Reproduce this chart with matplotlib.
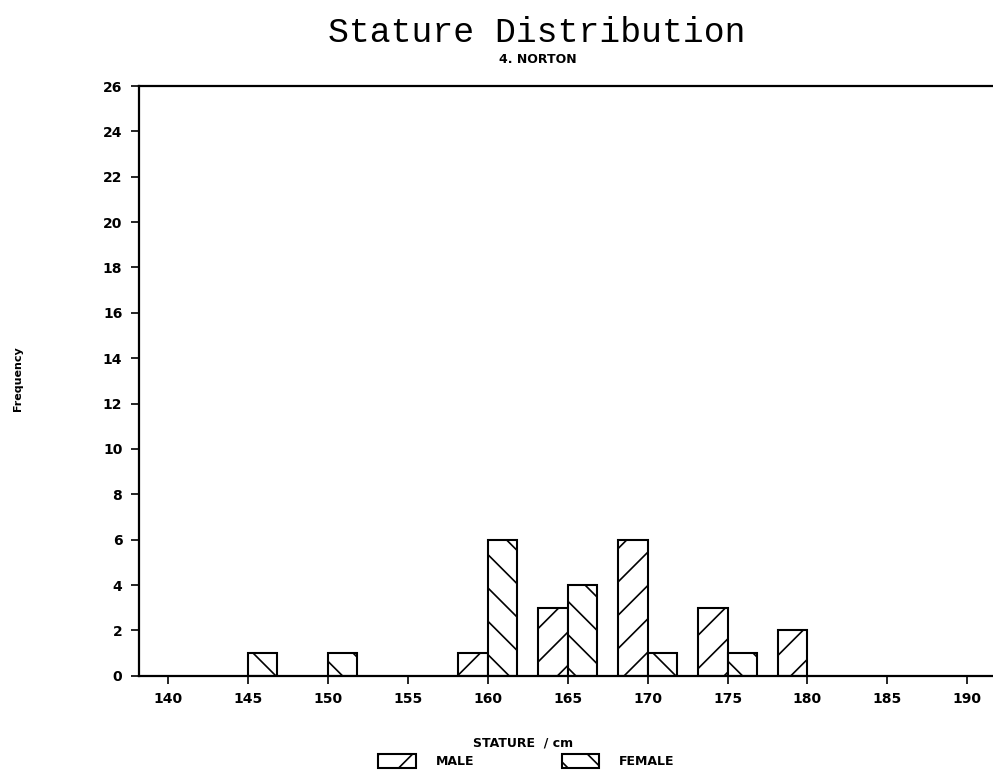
import matplotlib.pyplot as plt
import numpy as np
from matplotlib.patches import Patch

# stature bins (cm) and counts
bins = [140, 145, 150, 155, 160, 165, 170, 175, 180, 185, 190]
male = [0, 0, 0, 0, 1, 3, 6, 3, 2, 0, 0]
female = [0, 1, 1, 0, 6, 4, 1, 1, 0, 0, 0]
y_ticks = list(range(0, 27, 2))

plt.rcParams["hatch.linewidth"] = 1.2

fig = plt.figure(figsize=(9.93, 7.75), dpi=100)
ax = fig.add_axes([0.140, 0.128, 0.860, 0.761])

w = 1.85
x = np.array(bins, dtype=float)
m = np.array(male)
f = np.array(female)
mk = m > 0
fk = f > 0
ax.bar(x[mk] - w / 2, m[mk], width=w, facecolor="white", edgecolor="black",
       hatch="/", linewidth=1.5)
ax.bar(x[fk] + w / 2, f[fk], width=w, facecolor="white", edgecolor="black",
       hatch="\\", linewidth=1.5)

ax.set_xlim(138.2, 191.6)
ax.set_ylim(0, 26)
ax.set_xticks(bins)
ax.set_yticks(y_ticks)
ax.tick_params(axis="both", direction="out", length=6, width=1.2,
               labelsize=10, pad=6)
for lab in ax.get_xticklabels() + ax.get_yticklabels():
    lab.set_fontweight("bold")

ax.spines["right"].set_visible(False)
for s in ["left", "top", "bottom"]:
    ax.spines[s].set_linewidth(1.6)

fig.text(0.541, 0.946, "Stature Distribution", ha="center", va="baseline",
         fontsize=25, family="Liberation Mono")
fig.text(0.542, 0.923, "4. NORTON", ha="center", va="center",
         fontsize=9, fontweight="bold")
fig.text(0.018, 0.512, "Frequency", rotation=90, ha="center", va="center",
         fontsize=8, fontweight="bold")
fig.text(0.527, 0.041, "STATURE  / cm", ha="center", va="center",
         fontsize=9, fontweight="bold")

handles = [
    Patch(facecolor="white", edgecolor="black", hatch="/", linewidth=1.5, label="MALE"),
    Patch(facecolor="white", edgecolor="black", hatch="\\", linewidth=1.5, label="FEMALE"),
]
leg = fig.legend(handles=handles, loc="center", bbox_to_anchor=(0.53, 0.018),
                 ncol=2, frameon=False, handlelength=3.0, handleheight=1.3,
                 handletextpad=1.6, columnspacing=7,
                 prop={"size": 9, "weight": "bold"})

fig.savefig("out.png", dpi=100)
